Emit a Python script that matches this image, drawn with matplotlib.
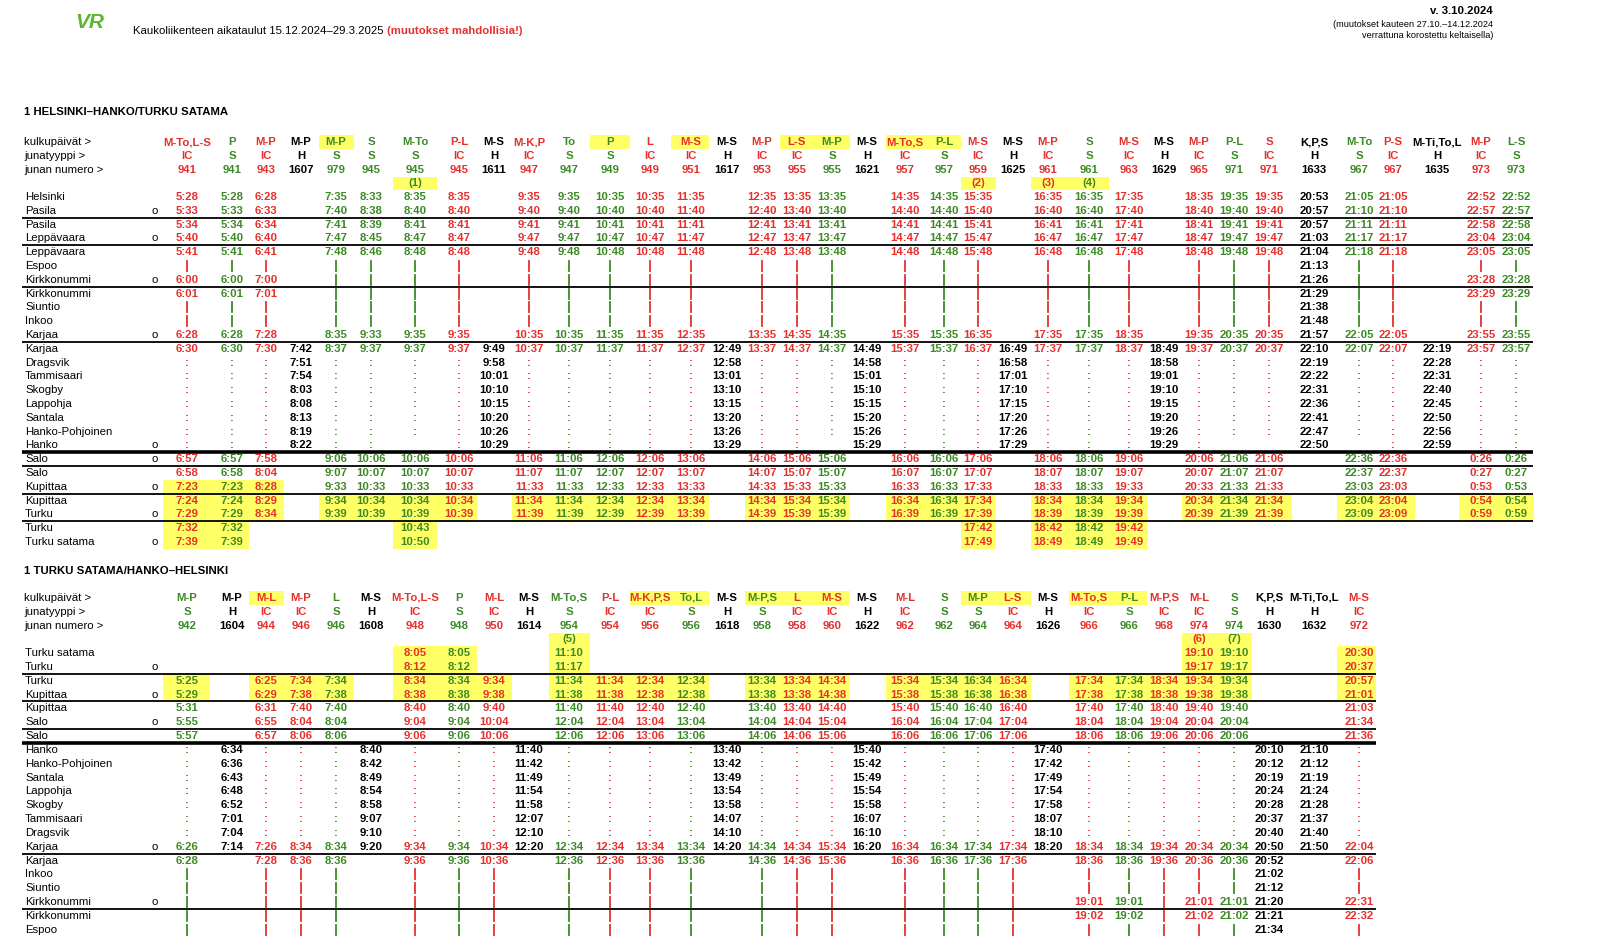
import matplotlib
matplotlib.use("Agg")
import matplotlib.pyplot as plt
from matplotlib.patches import Rectangle

plt.rcParams['font.family'] = ['Liberation Sans', 'DejaVu Sans']

RED = '#e5302d'
GREEN = '#3c8a26'
BLACK = '#000000'
YELLOW = '#ffff66'
TYPE_COLOR = {'IC': RED, 'S': GREEN, 'H': BLACK}

# ---------------- table 1: Helsinki -> Hanko/Turku satama ----------------
days1 = ['M-To,L-S', 'P', 'M-P', 'M-P', 'M-P', 'S', 'M-To', 'P-L', 'M-S', 'M-K,P', 'To', 'P',
         'L', 'M-S', 'M-S', 'M-P', 'L-S', 'M-P', 'M-S', 'M-To,S', 'P-L', 'M-S', 'M-S', 'M-P',
         'S', 'M-S', 'M-S', 'M-P', 'P-L', 'S', 'K,P,S', 'M-To', 'P-S', 'M-Ti,To,L', 'M-P', 'L-S']
types1 = ['IC', 'S', 'IC', 'H', 'S', 'S', 'S', 'IC', 'H', 'IC', 'S', 'S', 'IC', 'IC', 'H', 'IC',
          'IC', 'S', 'H', 'IC', 'S', 'IC', 'H', 'IC', 'S', 'IC', 'H', 'IC', 'S', 'IC', 'H', 'S',
          'IC', 'H', 'IC', 'S']
numbers1 = ['941', '941', '943', '1607', '979', '945', '945', '945', '1611', '947', '947', '949',
            '949', '951', '1617', '953', '955', '955', '1621', '957', '957', '959', '1625', '961',
            '961', '963', '1629', '965', '971', '971', '1633', '967', '967', '1635', '973', '973']
notes1 = {6: '(1)', 21: '(2)', 23: '(3)', 24: '(4)'}

stations1 = ['Helsinki', 'Pasila', 'Pasila', 'Leppävaara', 'Leppävaara', 'Espoo', 'Kirkkonummi',
             'Kirkkonummi', 'Siuntio', 'Inkoo', 'Karjaa', 'Karjaa', 'Dragsvik', 'Tammisaari',
             'Skogby', 'Lappohja', 'Santala', 'Hanko-Pohjoinen', 'Hanko', 'Salo', 'Salo',
             'Kupittaa', 'Kupittaa', 'Turku', 'Turku', 'Turku satama']
arrive1 = [1, 3, 6, 10, 18, 19, 21, 23, 25]
lines1 = [1, 3, 6, 10, 18, 19, 21, 23]

times1 = [
    "5:28 5:28 6:28 . 7:35 8:33 8:35 8:35 . 9:35 9:35 10:35 10:35 11:35 . 12:35 13:35 13:35 . 14:35 14:35 15:35 . 16:35 16:35 17:35 . 18:35 19:35 19:35 20:53 21:05 21:05 . 22:52 22:52",
    "5:33 5:33 6:33 . 7:40 8:38 8:40 8:40 . 9:40 9:40 10:40 10:40 11:40 . 12:40 13:40 13:40 . 14:40 14:40 15:40 . 16:40 16:40 17:40 . 18:40 19:40 19:40 20:57 21:10 21:10 . 22:57 22:57",
    "5:34 5:34 6:34 . 7:41 8:39 8:41 8:41 . 9:41 9:41 10:41 10:41 11:41 . 12:41 13:41 13:41 . 14:41 14:41 15:41 . 16:41 16:41 17:41 . 18:41 19:41 19:41 20:57 21:11 21:11 . 22:58 22:58",
    "5:40 5:40 6:40 . 7:47 8:45 8:47 8:47 . 9:47 9:47 10:47 10:47 11:47 . 12:47 13:47 13:47 . 14:47 14:47 15:47 . 16:47 16:47 17:47 . 18:47 19:47 19:47 21:03 21:17 21:17 . 23:04 23:04",
    "5:41 5:41 6:41 . 7:48 8:46 8:48 8:48 . 9:48 9:48 10:48 10:48 11:48 . 12:48 13:48 13:48 . 14:48 14:48 15:48 . 16:48 16:48 17:48 . 18:48 19:48 19:48 21:04 21:18 21:18 . 23:05 23:05",
    "| | | . | | | | . | | | | | . | | | . | | | . | | | . | | | 21:13 | | . | |",
    "6:00 6:00 7:00 . | | | | . | | | | | . | | | . | | | . | | | . | | | 21:26 | | . 23:28 23:28",
    "6:01 6:01 7:01 . | | | | . | | | | | . | | | . | | | . | | | . | | | 21:29 | | . 23:29 23:29",
    "| | | . | | | | . | | | | | . | | | . | | | . | | | . | | | 21:38 | | . | |",
    "| | | . | | | | . | | | | | . | | | . | | | . | | | . | | | 21:48 | | . | |",
    "6:28 6:28 7:28 . 8:35 9:33 9:35 9:35 . 10:35 10:35 11:35 11:35 12:35 . 13:35 14:35 14:35 . 15:35 15:35 16:35 . 17:35 17:35 18:35 . 19:35 20:35 20:35 21:57 22:05 22:05 . 23:55 23:55",
    "6:30 6:30 7:30 7:42 8:37 9:37 9:37 9:37 9:49 10:37 10:37 11:37 11:37 12:37 12:49 13:37 14:37 14:37 14:49 15:37 15:37 16:37 16:49 17:37 17:37 18:37 18:49 19:37 20:37 20:37 22:10 22:07 22:07 22:19 23:57 23:57",
    ": : : 7:51 : : : : 9:58 : : : : : 12:58 : : : 14:58 : : : 16:58 : : : 18:58 : : : 22:19 : : 22:28 : :",
    ": : : 7:54 : : : : 10:01 : : : : : 13:01 : : : 15:01 : : : 17:01 : : : 19:01 : : : 22:22 : : 22:31 : :",
    ": : : 8:03 : : : : 10:10 : : : : : 13:10 : : : 15:10 : : : 17:10 : : : 19:10 : : : 22:31 : : 22:40 : :",
    ": : : 8:08 : : : : 10:15 : : : : : 13:15 : : : 15:15 : : : 17:15 : : : 19:15 : : : 22:36 : : 22:45 : :",
    ": : : 8:13 : : : : 10:20 : : : : : 13:20 : : : 15:20 : : : 17:20 : : : 19:20 : : : 22:41 : : 22:50 : :",
    ": : : 8:19 : : : : 10:26 : : : : : 13:26 : : : 15:26 : : : 17:26 : : : 19:26 : : : 22:47 : : 22:56 : :",
    ": : : 8:22 : : . : 10:29 : : : : : 13:29 : : . 15:29 : : : 17:29 : : : 19:29 : . . 22:50 . : 22:59 : :",
    "6:57 6:57 7:58 . 9:06 10:06 10:06 10:06 . 11:06 11:06 12:06 12:06 13:06 . 14:06 15:06 15:06 . 16:06 16:06 17:06 . 18:06 18:06 19:06 . 20:06 21:06 21:06 . 22:36 22:36 . 0:26 0:26",
    "6:58 6:58 8:04 . 9:07 10:07 10:07 10:07 . 11:07 11:07 12:07 12:07 13:07 . 14:07 15:07 15:07 . 16:07 16:07 17:07 . 18:07 18:07 19:07 . 20:07 21:07 21:07 . 22:37 22:37 . 0:27 0:27",
    "7:23 7:23 8:28 . 9:33 10:33 10:33 10:33 . 11:33 11:33 12:33 12:33 13:33 . 14:33 15:33 15:33 . 16:33 16:33 17:33 . 18:33 18:33 19:33 . 20:33 21:33 21:33 . 23:03 23:03 . 0:53 0:53",
    "7:24 7:24 8:29 . 9:34 10:34 10:34 10:34 . 11:34 11:34 12:34 12:34 13:34 . 14:34 15:34 15:34 . 16:34 16:34 17:34 . 18:34 18:34 19:34 . 20:34 21:34 21:34 . 23:04 23:04 . 0:54 0:54",
    "7:29 7:29 8:34 . 9:39 10:39 10:39 10:39 . 11:39 11:39 12:39 12:39 13:39 . 14:39 15:39 15:39 . 16:39 16:39 17:39 . 18:39 18:39 19:39 . 20:39 21:39 21:39 . 23:09 23:09 . 0:59 0:59",
    "7:32 7:32 . . . . 10:43 . . . . . . . . . . . . . . 17:42 . 18:42 18:42 19:42 . . . . . . . . . .",
    "7:39 7:39 . . . . 10:50 . . . . . . . . . . . . . . 17:49 . 18:49 18:49 19:49 . . . . . . . . . .",
]

# ---------------- table 2: Turku satama/Hanko -> Helsinki ----------------
days2 = ['M-P', 'M-P', 'M-L', 'M-P', 'L', 'M-S', 'M-To,L-S', 'P', 'M-L', 'M-S', 'M-To,S', 'P-L',
         'M-K,P,S', 'To,L', 'M-S', 'M-P,S', 'L', 'M-S', 'M-S', 'M-L', 'S', 'M-P', 'L-S', 'M-S',
         'M-To,S', 'P-L', 'M-P,S', 'M-L', 'S', 'K,P,S', 'M-Ti,To,L', 'M-S']
types2 = ['S', 'H', 'IC', 'IC', 'S', 'H', 'IC', 'S', 'IC', 'H', 'S', 'IC', 'IC', 'S', 'H', 'S',
          'IC', 'IC', 'H', 'IC', 'S', 'S', 'IC', 'H', 'IC', 'S', 'IC', 'IC', 'S', 'H', 'H', 'IC']
numbers2 = ['942', '1604', '944', '946', '946', '1608', '948', '948', '950', '1614', '954', '954',
            '956', '956', '1618', '958', '958', '960', '1622', '962', '962', '964', '964', '1626',
            '966', '966', '968', '974', '974', '1630', '1632', '972']
notes2 = {10: '(5)', 27: '(6)', 28: '(7)'}

stations2 = ['Turku satama', 'Turku', 'Turku', 'Kupittaa', 'Kupittaa', 'Salo', 'Salo', 'Hanko',
             'Hanko-Pohjoinen', 'Santala', 'Lappohja', 'Skogby', 'Tammisaari', 'Dragsvik',
             'Karjaa', 'Karjaa', 'Inkoo', 'Siuntio', 'Kirkkonummi', 'Kirkkonummi', 'Espoo']
arrive2 = [1, 3, 5, 14, 18]
lines2 = [1, 3, 5, 6, 14, 18]

times2 = [
    ". . . . . . 8:05 8:05 . . 11:10 . . . . . . . . . . . . . . . . 19:10 19:10 . . 20:30",
    ". . . . . . 8:12 8:12 . . 11:17 . . . . . . . . . . . . . . . . 19:17 19:17 . . 20:37",
    "5:25 . 6:25 7:34 7:34 . 8:34 8:34 9:34 . 11:34 11:34 12:34 12:34 . 13:34 13:34 14:34 . 15:34 15:34 16:34 16:34 . 17:34 17:34 18:34 19:34 19:34 . . 20:57",
    "5:29 . 6:29 7:38 7:38 . 8:38 8:38 9:38 . 11:38 11:38 12:38 12:38 . 13:38 13:38 14:38 . 15:38 15:38 16:38 16:38 . 17:38 17:38 18:38 19:38 19:38 . . 21:01",
    "5:31 . 6:31 7:40 7:40 . 8:40 8:40 9:40 . 11:40 11:40 12:40 12:40 . 13:40 13:40 14:40 . 15:40 15:40 16:40 16:40 . 17:40 17:40 18:40 19:40 19:40 . . 21:03",
    "5:55 . 6:55 8:04 8:04 . 9:04 9:04 10:04 . 12:04 12:04 13:04 13:04 . 14:04 14:04 15:04 . 16:04 16:04 17:04 17:04 . 18:04 18:04 19:04 20:04 20:04 . . 21:34",
    "5:57 . 6:57 8:06 8:06 . 9:06 9:06 10:06 . 12:06 12:06 13:06 13:06 . 14:06 14:06 15:06 . 16:06 16:06 17:06 17:06 . 18:06 18:06 19:06 20:06 20:06 . . 21:36",
    ": 6:34 : : : 8:40 : : : 11:40 : : : : 13:40 : : : 15:40 : : : : 17:40 : : : : : 20:10 21:10 :",
    ": 6:36 : : : 8:42 : : : 11:42 : : : : 13:42 : : : 15:42 : : : : 17:42 : : : : : 20:12 21:12 :",
    ": 6:43 : : : 8:49 : : : 11:49 : : : : 13:49 : : : 15:49 : : : : 17:49 : : : : : 20:19 21:19 :",
    ": 6:48 : : : 8:54 : : : 11:54 : : : : 13:54 : : : 15:54 : : : : 17:54 : : : : : 20:24 21:24 :",
    ": 6:52 : : : 8:58 : : : 11:58 : : : : 13:58 : : : 15:58 : : : : 17:58 : : : : : 20:28 21:28 :",
    ": 7:01 : : : 9:07 : : : 12:07 : : : : 14:07 : : : 16:07 : : : : 18:07 : : : : : 20:37 21:37 :",
    ": 7:04 : : : 9:10 : : : 12:10 : : : : 14:10 : : : 16:10 : : : : 18:10 : : : : : 20:40 21:40 :",
    "6:26 7:14 7:26 8:34 8:34 9:20 9:34 9:34 10:34 12:20 12:34 12:34 13:34 13:34 14:20 14:34 14:34 15:34 16:20 16:34 16:34 17:34 17:34 18:20 18:34 18:34 19:34 20:34 20:34 20:50 21:50 22:04",
    "6:28 . 7:28 8:36 8:36 . 9:36 9:36 10:36 . 12:36 12:36 13:36 13:36 . 14:36 14:36 15:36 . 16:36 16:36 17:36 17:36 . 18:36 18:36 19:36 20:36 20:36 20:52 . 22:06",
    "| . | | | . | | | . | | | | . | | | . | | | | . | | | | | 21:02 . |",
    "| . | | | . | | | . | | | | . | | | . | | | | . | | | | | 21:12 . |",
    "| . | | | . | | | . | | | | . | | | . | | | | . 19:01 19:01 | 21:01 21:01 21:20 . 22:31",
    "| . | | | . | | | . | | | | . | | | . | | | | . 19:02 19:02 | 21:02 21:02 21:21 . 22:32",
    "| . | | | . | | | . | | | | . | | | . | | | | . | | | | | 21:34 . |",
]

# yellow highlights: row -> highlighted columns (0-based)
hl_cols1 = [0, 1, 2, 4, 5, 6, 7, 9, 10, 11, 12, 13, 15, 16, 17, 19, 20, 21, 23, 24, 25,
            27, 28, 29, 31, 32, 34, 35]
hl1 = {21: [0, 1, 2], 22: hl_cols1, 23: hl_cols1, 24: [0, 1, 6, 21, 23, 24, 25],
       25: [0, 1, 6, 21, 23, 24, 25]}
hl_head1 = [4, 11, 13, 16, 17, 19, 20]
hl_cols2 = [0, 2, 3, 4, 6, 7, 8, 10, 11, 12, 13, 15, 16, 17, 19, 20, 21, 22, 24, 25, 26,
            27, 28, 31]
hl2 = {0: [6, 7, 10, 27, 28, 31], 1: [6, 7, 10, 27, 28, 31], 2: hl_cols2, 3: hl_cols2}
hl_head2 = [2, 12, 13, 15, 16, 17, 21, 22, 24, 25]

# column centres (px), shared by both tables
col_x = [187, 232, 266, 301, 336, 371, 415, 459, 494, 529, 569, 610, 650, 691, 727, 762, 797,
         832, 867, 905, 944, 978, 1013, 1048, 1089, 1129, 1164, 1199, 1234, 1269, 1314, 1359,
         1393, 1437, 1481, 1516]
edges = [col_x[0] - 24] + [(a + b) / 2 for a, b in zip(col_x[:-1], col_x[1:])] + [col_x[-1] + 18]

FS = 8.2
fig = plt.figure(figsize=(16, 9.49), dpi=100)
ax = fig.add_axes([0, 0, 1, 1])
ax.set_xlim(0, 1600)
ax.set_ylim(949, 0)
ax.axis('off')


def cell_box(c, y, h=13.8):
    ax.add_patch(Rectangle((edges[c], y - h / 2), edges[c + 1] - edges[c], h,
                           color=YELLOW, lw=0, zorder=0))


def draw_table(title, y_title, y_head, y0, step, days, types, numbers, notes, stations,
               arrive, lines, thick, times, hl, hl_head, x_right):
    ax.text(24, y_title, title, fontsize=FS, fontweight='bold', va='center')
    for i, lab in enumerate(['kulkupäivät >', 'junatyyppi >', 'junan numero >']):
        ax.text(24, y_head + i * 13.8, lab, fontsize=FS, va='center')
    for c in hl_head:
        cell_box(c, y_head)
    for c in notes:
        cell_box(c, y_head + 3 * 13.8)
    for c in range(len(days)):
        col = TYPE_COLOR[types[c]]
        x = col_x[c]
        ax.text(x, y_head, days[c], color=col, fontsize=FS, fontweight='bold', ha='center', va='center')
        ax.text(x, y_head + 13.8, types[c], color=col, fontsize=FS, fontweight='bold', ha='center', va='center')
        ax.text(x, y_head + 27.6, numbers[c], color=col, fontsize=FS, fontweight='bold', ha='center', va='center')
        if c in notes:
            ax.text(x, y_head + 41.4, notes[c], color=col, fontsize=FS, fontweight='bold', ha='center', va='center')
    for r, name in enumerate(stations):
        y = y0 + r * step
        ax.text(25, y, name, fontsize=FS, va='center')
        if r in arrive:
            ax.text(155, y, 'o', fontsize=FS, va='center', ha='center')
        for c in hl.get(r, []):
            cell_box(c, y, step)
        for c, tok in enumerate(times[r].split()):
            if tok == '.':
                continue
            col = TYPE_COLOR[types[c]]
            if tok == '|':
                ax.plot([col_x[c], col_x[c]], [y - 5, y + 5], color=col, lw=1.3)
            else:
                ax.text(col_x[c], y, tok, color=col, fontsize=FS, fontweight='bold',
                        ha='center', va='center')
    for r in lines:
        y = y0 + (r + 0.5) * step
        lw = 2.6 if r == thick else 1.3
        ax.plot([22, x_right], [y, y], color=BLACK, lw=lw, solid_capstyle='butt')


# page header
ax.text(75, 22, 'VR', fontsize=15, fontweight='bold', style='italic', color='#5cb531', va='center')
t = ax.text(133, 31, 'Kaukoliikenteen aikataulut 15.12.2024–29.3.2025 ', fontsize=FS, va='center')
ax.annotate('(muutokset mahdollisia!)', xy=(1, 0.5), xycoords=t, fontsize=FS, va='center',
            color=RED, fontweight='bold')
ax.text(1493, 11, 'v. 3.10.2024', fontsize=FS, fontweight='bold', ha='right', va='center')
ax.text(1493, 24, '(muutokset kauteen 27.10.–14.12.2024', fontsize=6.6, ha='right', va='center')
ax.text(1493, 35, 'verrattuna korostettu keltaisella)', fontsize=6.6, ha='right', va='center')

draw_table('1 HELSINKI–HANKO/TURKU SATAMA', 112, 142, 197, 13.8, days1, types1, numbers1,
           notes1, stations1, arrive1, lines1, 18, times1, hl1, hl_head1, 1533)
draw_table('1 TURKU SATAMA/HANKO–HELSINKI', 571, 598, 653, 13.84, days2, types2, numbers2,
           notes2, stations2, arrive2, lines2, 6, times2, hl2, hl_head2, 1376)

fig.savefig('out.png', dpi=100)
